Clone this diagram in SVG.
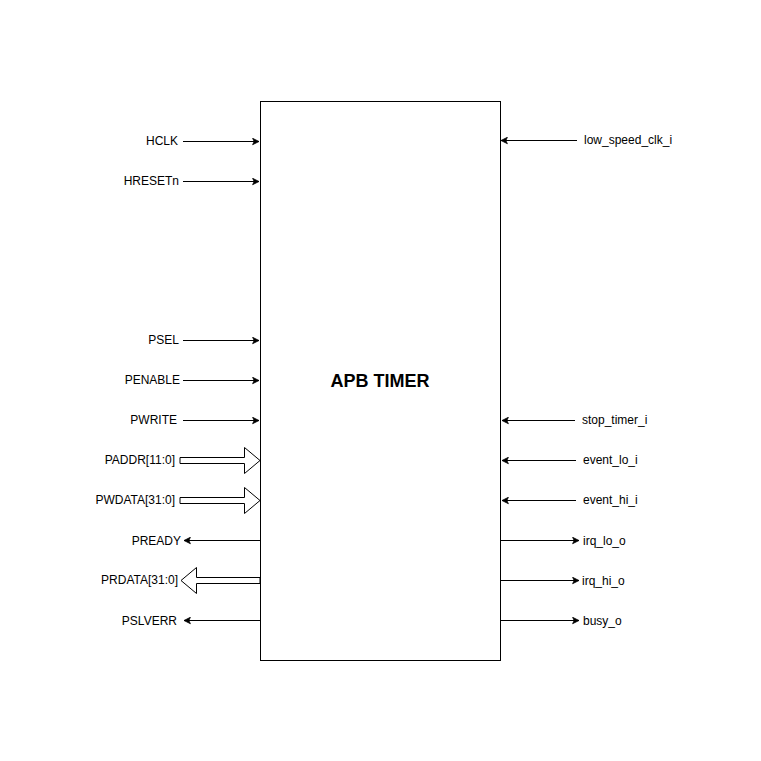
<svg xmlns="http://www.w3.org/2000/svg" width="761" height="761" viewBox="0 0 761 761">
<defs>
<marker id="arr" viewBox="0 0 10 10" refX="9" refY="5" markerWidth="8" markerHeight="8" markerUnits="userSpaceOnUse" orient="auto">
<path d="M1,1 L9,5 L1,9 L3,5 Z" fill="#000" stroke="#000" stroke-width="1"/>
</marker>
</defs>
<style>
.lbl{font-family:"Liberation Sans",Arial,sans-serif;font-size:12px;fill:#000;dominant-baseline:central}
.l{text-anchor:end}
.w{stroke:#000;stroke-width:1;fill:none}
.bus{stroke:#000;stroke-width:1;fill:#fff}
</style>
<rect width="761" height="761" fill="#fff"/>
<g id="timer">
<rect x="260.5" y="101.5" width="240" height="559" fill="#fff" stroke="#000" stroke-width="1"/>
<text x="380" y="381" text-anchor="middle" dominant-baseline="central" font-family="'Liberation Sans',Arial,sans-serif" font-size="18" font-weight="bold">APB TIMER</text>
</g>
<g id="connectors">
<line class="w" x1="183" y1="141.5" x2="259" y2="141.5" marker-end="url(#arr)"/>
<line class="w" x1="183" y1="181.5" x2="259" y2="181.5" marker-end="url(#arr)"/>
<line class="w" x1="183" y1="340.5" x2="259" y2="340.5" marker-end="url(#arr)"/>
<line class="w" x1="183" y1="380.5" x2="259" y2="380.5" marker-end="url(#arr)"/>
<line class="w" x1="183" y1="420.5" x2="259" y2="420.5" marker-end="url(#arr)"/>
<path class="bus" d="M180,457.5 L244.5,457.5 L244.5,447.5 L260,460.5 L244.5,473.5 L244.5,463.5 L180,463.5 Z"/>
<path class="bus" d="M180,497.5 L244.5,497.5 L244.5,487.5 L260,500.5 L244.5,513.5 L244.5,503.5 L180,503.5 Z"/>
<line class="w" x1="260" y1="540.5" x2="184" y2="540.5" marker-end="url(#arr)"/>
<path class="bus" d="M260,577.5 L196.5,577.5 L196.5,567.5 L181,580.5 L196.5,593.5 L196.5,583.5 L260,583.5 Z"/>
<line class="w" x1="260" y1="620.5" x2="184" y2="620.5" marker-end="url(#arr)"/>
<line class="w" x1="577" y1="140.5" x2="501" y2="140.5" marker-end="url(#arr)"/>
<line class="w" x1="575" y1="420.5" x2="502" y2="420.5" marker-end="url(#arr)"/>
<line class="w" x1="576" y1="460.5" x2="502" y2="460.5" marker-end="url(#arr)"/>
<line class="w" x1="576" y1="500.5" x2="502" y2="500.5" marker-end="url(#arr)"/>
<line class="w" x1="500" y1="540.5" x2="579" y2="540.5" marker-end="url(#arr)"/>
<line class="w" x1="500" y1="580.5" x2="579" y2="580.5" marker-end="url(#arr)"/>
<line class="w" x1="500" y1="620.5" x2="579" y2="620.5" marker-end="url(#arr)"/>
</g>
<g id="labels">
<text class="lbl l" x="178" y="141">HCLK</text>
<text class="lbl l" x="179" y="181">HRESETn</text>
<text class="lbl l" x="179" y="340">PSEL</text>
<text class="lbl l" x="180" y="380">PENABLE</text>
<text class="lbl l" x="177" y="420">PWRITE</text>
<text class="lbl l" x="175" y="460">PADDR[11:0]</text>
<text class="lbl l" x="175" y="500">PWDATA[31:0]</text>
<text class="lbl l" x="181" y="540.5">PREADY</text>
<text class="lbl l" x="178" y="580">PRDATA[31:0]</text>
<text class="lbl l" x="177" y="621">PSLVERR</text>
<text class="lbl" x="584" y="140">low_speed_clk_i</text>
<text class="lbl" x="582" y="420">stop_timer_i</text>
<text class="lbl" x="583" y="460">event_lo_i</text>
<text class="lbl" x="583" y="500">event_hi_i</text>
<text class="lbl" x="583" y="541">irq_lo_o</text>
<text class="lbl" x="582" y="581">irq_hi_o</text>
<text class="lbl" x="583" y="621">busy_o</text>
</g>
</svg>
